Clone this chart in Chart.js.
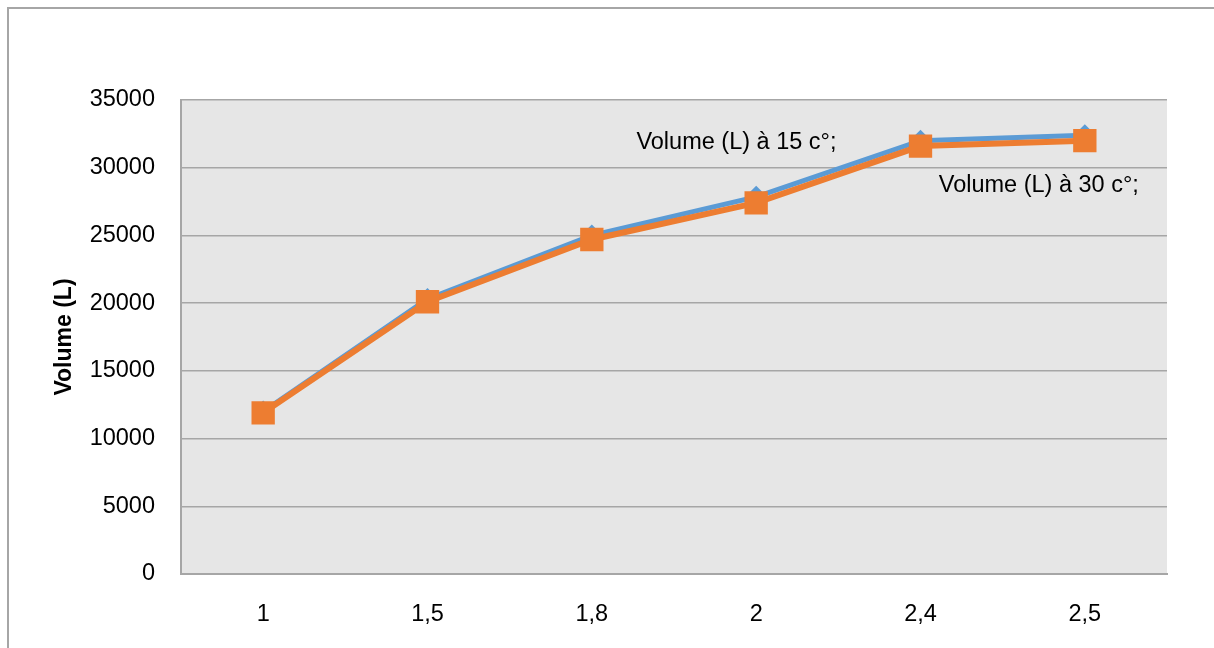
<!DOCTYPE html>
<html>
<head>
<meta charset="utf-8">
<script src="https://cdn.jsdelivr.net/npm/chart.js@4/dist/chart.umd.min.js"></script>
<style>
  html, body { margin: 0; padding: 0; background: #fff; }
  #wrap { width: 1214px; height: 648px; position: relative; }
</style>
</head>
<body>
<div id="wrap"><canvas id="grafico"></canvas></div>
<script>
// données
const categories = ["1", "1,5", "1,8", "2", "2,4", "2,5"];
const volume15 = [12000, 20300, 25000, 27850, 32000, 32400];
const volume30 = [11900, 20100, 24700, 27400, 31600, 32000];
const yTicks = [0, 5000, 10000, 15000, 20000, 25000, 30000, 35000];
const nomSerie15 = "Volume (L) à 15 c°;";
const nomSerie30 = "Volume (L) à 30 c°;";

const police = "'Liberation Sans', Arial, sans-serif";

// fond gris de la zone de tracé + cadre extérieur
const fondPlugin = {
    id: "fond",
    beforeDraw(chart) {
        const { ctx, chartArea } = chart;
        ctx.save();
        ctx.fillStyle = "#e6e6e6";
        ctx.fillRect(chartArea.left, chartArea.top, chartArea.right - chartArea.left, chartArea.bottom - chartArea.top);
        ctx.strokeStyle = "#a6a6a6";
        ctx.lineWidth = 2;
        ctx.strokeRect(8, 8, chart.width + 20, chart.height + 20);
        ctx.restore();
    }
};

// étiquettes des séries près des derniers points
const etiquettesPlugin = {
    id: "etiquettes",
    afterDatasetsDraw(chart) {
        const { ctx } = chart;
        const p15 = chart.getDatasetMeta(0).data[4];
        const p30 = chart.getDatasetMeta(1).data[5];
        ctx.save();
        ctx.font = "23.5px " + police;
        ctx.fillStyle = "#000";
        ctx.textBaseline = "middle";
        ctx.textAlign = "right";
        ctx.fillText(nomSerie15, p15.x - 84, p15.y + 2);
        ctx.textAlign = "center";
        ctx.fillText(nomSerie30, p30.x - 46, p30.y + 45);
        ctx.restore();
    }
};

const ctx = document.getElementById("grafico").getContext("2d");
new Chart(ctx, {
    type: "line",
    data: {
        labels: categories,
        datasets: [
            {
                label: nomSerie15,
                data: volume15,
                borderColor: "#5b9bd5",
                backgroundColor: "#5b9bd5",
                borderWidth: 5,
                pointStyle: "rectRot",
                pointRadius: 11,
                pointBorderWidth: 0,
                tension: 0,
                order: 1
            },
            {
                label: nomSerie30,
                data: volume30,
                borderColor: "#ed7d31",
                backgroundColor: "#ed7d31",
                borderWidth: 6,
                pointStyle: "rect",
                pointRadius: 16.5,
                pointBorderWidth: 0,
                tension: 0,
                order: 0
            }
        ]
    },
    options: {
        responsive: true,
        maintainAspectRatio: false,
        animation: false,
        layout: { padding: { left: 0, top: 100, right: 47, bottom: 0 } },
        plugins: {
            legend: { display: false },
            tooltip: { enabled: false }
        },
        scales: {
            x: {
                offset: true,
                grid: { display: false, drawTicks: false },
                border: { display: true, color: "#a6a6a6", width: 2 },
                ticks: { color: "#000", font: { family: police, size: 23.5 }, padding: 26 },
                afterFit(scale) { scale.height = 74; }
            },
            y: {
                min: 0,
                max: 35000,
                afterBuildTicks(scale) { scale.ticks = yTicks.map(v => ({ value: v })); },
                grid: { color: "#a6a6a6", lineWidth: 1.5, drawTicks: false },
                border: { display: true, color: "#a6a6a6", width: 2 },
                ticks: {
                    color: "#000",
                    font: { family: police, size: 23.5 },
                    padding: 26,
                    callback: v => String(v)
                },
                title: {
                    display: true,
                    text: "Volume (L)",
                    color: "#000",
                    font: { family: police, size: 23, weight: "bold" },
                    padding: { top: 51, bottom: 0 }
                },
                afterFit(scale) { scale.width = 181; }
            }
        }
    },
    plugins: [fondPlugin, etiquettesPlugin]
});
</script>
</body>
</html>
